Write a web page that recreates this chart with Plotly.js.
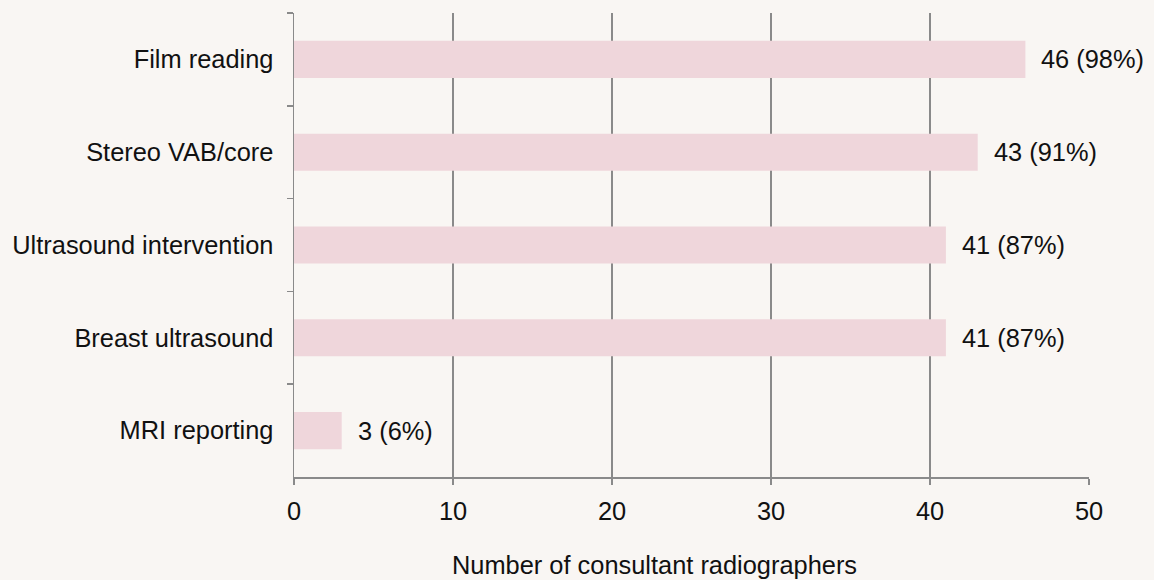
<!DOCTYPE html>
<html>
<head>
<meta charset="utf-8">
<script src="https://cdn.plot.ly/plotly-3.0.1.min.js"></script>
<style>html,body{margin:0;padding:0;background:#f9f6f3;}</style>
</head>
<body>
<div id="chart" style="width:1154px;height:580px;"></div>
<script>
const categories = ["Film reading", "Stereo VAB/core", "Ultrasound intervention", "Breast ultrasound", "MRI reporting"];
const counts = [46, 43, 41, 41, 3];
const percents = ["98%", "91%", "87%", "87%", "6%"];
const xTicks = [0, 10, 20, 30, 40, 50];
const xTitle = "Number of consultant radiographers";

const labels = counts.map((c, i) => c + " (" + percents[i] + ")");
const font = {family: "Liberation Sans, Arial, sans-serif", size: 25.4, color: "#111"};

const trace = {
  type: "bar",
  orientation: "h",
  x: counts,
  y: categories,
  marker: {color: "#efd6db"},
  hoverinfo: "none"
};

const annotations = counts.map((c, i) => ({
  x: c, y: categories[i], xref: "x", yref: "y",
  text: labels[i], showarrow: false, xanchor: "left", yanchor: "middle",
  xshift: 14, font: font
}));
annotations.push({
  xref: "paper", yref: "paper", x: 0.453, y: -0.19,
  xanchor: "center", yanchor: "middle", showarrow: false,
  text: xTitle, font: font
});

const layout = {
  width: 1154, height: 580,
  paper_bgcolor: "#f9f6f3", plot_bgcolor: "#f9f6f3",
  margin: {l: 294, r: 65, t: 13, b: 103},
  showlegend: false,
  bargap: 0.6,
  font: font,
  xaxis: {
    range: [0, 50], tickvals: xTicks, ticktext: xTicks.map(String),
    showgrid: true, gridcolor: "#8a8a8a", gridwidth: 1.5,
    showline: true, linecolor: "#8a8a8a", linewidth: 1.5,
    ticks: "outside", ticklen: 6, tickcolor: "#8a8a8a", tickwidth: 1.5,
    zeroline: false, tickfont: font, ticklabelstandoff: 5, fixedrange: true
  },
  yaxis: {
    type: "category", autorange: "reversed",
    showgrid: false, showline: true, linecolor: "#8a8a8a", linewidth: 1.5,
    ticks: "outside", tickson: "boundaries", ticklen: 6, tickcolor: "#8a8a8a", tickwidth: 1.5,
    zeroline: false, tickfont: font, ticklabelstandoff: 14, fixedrange: true
  },
  annotations: annotations
};

Plotly.newPlot("chart", [trace], layout, {displayModeBar: false, staticPlot: true});
</script>
</body>
</html>
